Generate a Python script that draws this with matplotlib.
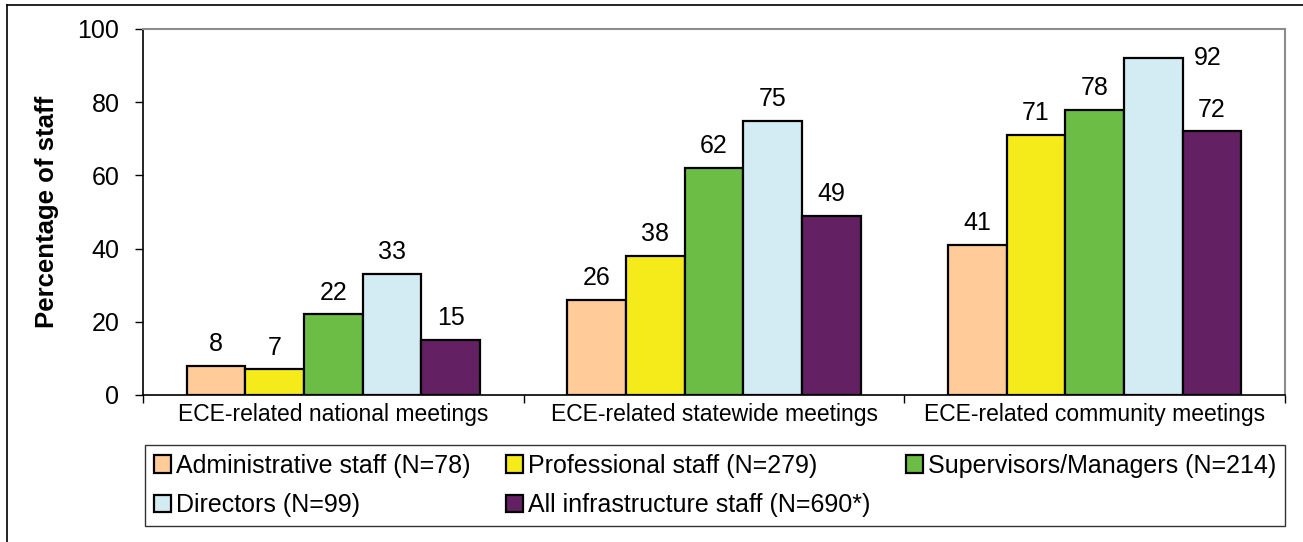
import matplotlib
matplotlib.use("Agg")
import matplotlib.pyplot as plt
import numpy as np
from matplotlib.lines import Line2D

categories = ["ECE-related national meetings",
              "ECE-related statewide meetings",
              "ECE-related community meetings"]
series_names = ["Administrative staff (N=78)",
                "Professional staff (N=279)",
                "Supervisors/Managers (N=214)",
                "Directors (N=99)",
                "All infrastructure staff (N=690*)"]
admin = [8, 26, 41]
professional = [7, 38, 71]
supervisors = [22, 62, 78]
directors = [33, 75, 92]
all_staff = [15, 49, 72]
colors = ["#FFCC99", "#F5EB1B", "#6CBD45", "#D3EBF2", "#632062"]
yticks = [0, 20, 40, 60, 80, 100]

plt.rcParams['font.family'] = ['Liberation Sans', 'DejaVu Sans']

fig = plt.figure(figsize=(13.03, 5.42), dpi=100)
ax = fig.add_axes([143 / 1303, 1 - 395 / 542, (1285 - 143) / 1303, (395 - 29) / 542])

x = np.arange(len(categories))
width = 0.154
values = [admin, professional, supervisors, directors, all_staff]
handles = []
for i, (vals, col, name) in enumerate(zip(values, colors, series_names)):
    pos = x + (i - 2) * width
    bars = ax.bar(pos, vals, width, color=col, edgecolor="black", linewidth=1.6, label=name)
    handles.append(bars)
    for b, v in zip(bars, vals):
        if v > 88:
            # no room above the bar: label goes beside it, like the original
            ax.annotate(str(v), (b.get_x() + b.get_width(), v), xytext=(8, 0),
                        textcoords="offset points", ha="left", va="center", fontsize=18)
        else:
            ax.annotate(str(v), (b.get_x() + b.get_width() / 2, v), xytext=(0, 7),
                        textcoords="offset points", ha="center", va="bottom", fontsize=18)

ax.set_xlim(-0.5, 2.5)
ax.set_ylim(0, 100)
ax.set_yticks(yticks)
ax.tick_params(axis="y", labelsize=18, length=6, width=1, direction="out", pad=11)
ax.set_xticks(x)
ax.set_xticklabels(categories, fontsize=16.5)
ax.tick_params(axis="x", which="major", length=0, pad=6)
ax.set_xticks([-0.5, 0.5, 1.5, 2.5], minor=True)
ax.tick_params(axis="x", which="minor", length=6, width=1, direction="out")
ax.set_ylabel("Percentage of staff", fontsize=18.5, fontweight="bold", labelpad=13)

for s in ["left", "bottom"]:
    ax.spines[s].set_color("black")
    ax.spines[s].set_linewidth(1.2)
for s in ["top", "right"]:
    ax.spines[s].set_color("#8C8C8C")
    ax.spines[s].set_linewidth(1.5)

# legend laid out row by row like the original
order = [0, 3, 1, 4, 2]
leg = fig.legend([handles[i] for i in order], [series_names[i] for i in order],
                 ncol=3, mode="expand", loc="lower left",
                 bbox_to_anchor=(145 / 1303, 16 / 542, (1285 - 145) / 1303, 77 / 542),
                 fontsize=18, frameon=True, fancybox=False, edgecolor="black",
                 handlelength=0.7, handleheight=0.7, handletextpad=0.2,
                 borderaxespad=0, borderpad=0.35, labelspacing=0.62)
leg.get_frame().set_linewidth(1.0)

# outer frame lines (top and left)
fig.add_artist(Line2D([7 / 1303, 1], [1 - 5 / 542, 1 - 5 / 542], color="black", lw=1.2))
fig.add_artist(Line2D([7 / 1303, 7 / 1303], [0, 1 - 5 / 542], color="black", lw=1.2))

fig.savefig("out.png", dpi=100)
